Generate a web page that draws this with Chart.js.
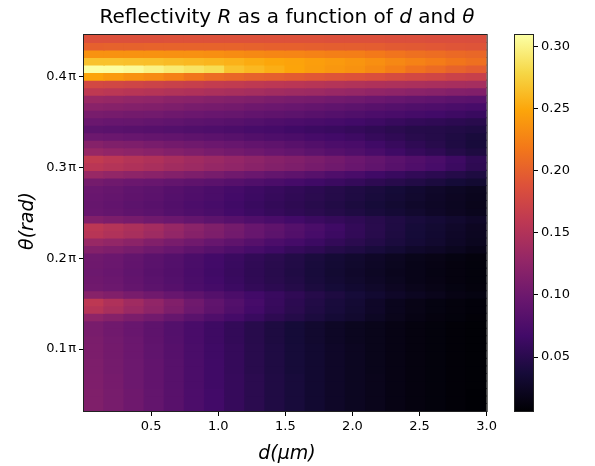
<!DOCTYPE html>
<html>
<head>
<meta charset="utf-8">
<script src="https://cdn.jsdelivr.net/npm/chart.js@4.4.1/dist/chart.umd.min.js"></script>
<style>
  body { margin: 0; background: #fff; font-family: "DejaVu Sans", sans-serif; }
  #wrap { position: relative; width: 595px; height: 466px; overflow: hidden; }
  #main { position: absolute; left: 0; top: 0; }
  #cbar { position: absolute; left: 500px; top: 0; }
  .txt { position: absolute; color: #000; white-space: nowrap; text-align: center; }
  #title { left: 87px; width: 400px; top: 4px; font-size: 20px; }
  #xlabel { left: 187px; width: 200px; top: 441px; font-size: 19px; font-style: italic; }
  #ylabel { left: -24px; top: 209px; width: 100px; height: 24px; line-height: 24px;
            font-size: 19px; font-style: italic; transform: rotate(-90deg); }
</style>
</head>
<body>
<div id="wrap">
  <canvas id="main" width="500" height="466"></canvas>
  <canvas id="cbar" width="95" height="466"></canvas>
  <div class="txt" id="title">Reflectivity <i>R</i> as a function of <i>d</i> and <i>θ</i></div>
  <div class="txt" id="xlabel">d(μm)</div>
  <div class="txt" id="ylabel">θ(rad)</div>
</div>
<script>
// thickness d (µm), column centres
const d_um = [0.075, 0.225, 0.375, 0.525, 0.675, 0.825, 0.975, 1.125, 1.275, 1.425,
              1.575, 1.725, 1.875, 2.025, 2.175, 2.325, 2.475, 2.625, 2.775, 2.925];

// angle theta (rad), row centres, top row first
const theta_rad = [1.387, 1.361, 1.335, 1.309, 1.283, 1.257, 1.231, 1.205, 1.179, 1.153,
                   1.127, 1.101, 1.075, 1.049, 1.023, 0.997, 0.971, 0.945, 0.919, 0.893,
                   0.867, 0.841, 0.815, 0.789, 0.763, 0.737, 0.711, 0.685, 0.659, 0.633,
                   0.607, 0.581, 0.555, 0.529, 0.503, 0.477, 0.451, 0.425, 0.399, 0.373,
                   0.347, 0.321, 0.295, 0.269, 0.243, 0.217, 0.191, 0.165, 0.139, 0.113];

// reflectivity R x 1000, one row per theta (same order), one value per d
const R_milli = [
  [187,187,187,187,188,188,188,188,188,188,188,188,187,187,187,186,186,185,185,184],
  [200,201,201,202,202,202,202,202,201,200,200,199,198,198,197,195,194,193,191,190],
  [236,236,236,236,235,235,234,232,230,228,227,225,223,222,219,215,212,210,207,205],
  [266,266,265,264,262,260,258,256,252,249,247,244,241,238,234,229,225,221,216,212],
  [309,308,305,299,293,288,283,266,260,254,248,243,239,236,230,222,214,208,202,197],
  [248,242,236,231,224,216,209,205,201,199,196,193,190,188,185,181,178,175,171,168],
  [178,176,174,172,169,167,164,162,160,158,156,154,152,150,148,147,145,144,142,141],
  [160,157,155,153,150,148,145,143,141,138,136,134,131,129,126,124,121,119,116,114],
  [132,130,127,125,122,120,117,115,113,110,108,106,103,101,98,95,92,90,87,85],
  [120,118,116,114,111,108,106,104,100,98,96,93,90,87,84,81,78,76,73,71],
  [108,106,104,103,100,98,96,94,91,89,87,84,81,78,75,72,69,67,64,61],
  [97,95,94,92,90,87,85,83,80,77,75,72,70,67,64,60,57,55,52,50],
  [87,85,84,82,80,78,76,74,71,69,66,63,61,58,55,51,48,47,45,43],
  [99,97,95,93,91,88,86,83,79,76,74,70,67,64,59,55,50,47,43,39],
  [117,113,111,108,104,101,98,95,91,88,84,79,75,72,66,60,54,49,43,38],
  [130,126,123,120,116,112,108,104,100,96,92,87,82,78,72,65,59,54,47,42],
  [162,157,152,148,142,137,133,128,123,118,114,109,104,98,92,85,79,73,64,55],
  [156,152,148,144,138,134,129,125,120,115,111,106,101,96,90,83,77,71,62,53],
  [131,127,123,120,116,111,107,102,97,92,88,83,77,72,66,61,56,52,47,42],
  [105,101,98,96,92,89,86,82,78,74,70,66,62,58,53,49,45,41,36,33],
  [97,94,90,87,82,78,74,69,64,60,56,52,48,44,40,36,32,28,25,22],
  [96,93,89,86,81,77,73,68,63,59,55,51,47,43,39,35,31,27,24,21],
  [94,91,87,84,79,75,71,66,61,57,53,49,45,41,37,33,29,26,23,20],
  [96,93,89,86,81,77,73,68,63,59,55,51,47,43,39,35,31,27,24,21],
  [114,110,106,101,97,92,87,82,77,72,67,62,58,54,49,44,39,35,31,27],
  [158,152,146,139,130,121,113,105,96,89,81,73,65,57,50,43,37,33,28,24],
  [155,149,143,136,127,118,111,103,95,87,79,71,63,56,49,42,36,32,27,23],
  [131,127,122,114,108,102,95,89,82,75,69,63,57,51,46,40,35,31,26,22],
  [116,112,107,101,96,89,83,77,71,65,59,54,48,44,39,34,29,26,22,18],
  [101,98,92,86,81,74,68,62,56,51,46,40,35,31,27,23,19,17,14,12],
  [100,97,91,85,80,73,67,61,55,50,45,39,34,30,26,22,18,16,13,11],
  [99,96,90,84,79,72,66,60,54,49,44,38,33,29,25,21,18,15,13,11],
  [100,97,91,85,80,73,67,61,55,50,45,39,34,30,26,22,18,16,13,11],
  [102,99,93,87,82,75,69,63,57,52,47,41,36,32,28,24,20,17,14,12],
  [119,114,108,102,95,88,81,74,67,61,55,48,42,37,32,27,23,20,16,14],
  [159,148,137,126,114,101,90,80,70,60,52,45,39,34,27,21,17,14,12,10],
  [153,143,133,123,111,99,88,78,68,59,51,44,38,33,27,21,17,14,12,10],
  [124,117,110,103,94,85,77,69,61,53,47,41,35,31,25,20,16,13,11,9],
  [108,102,96,88,80,72,64,57,49,42,36,31,26,22,19,16,13,11,9,8],
  [108,102,96,88,80,72,64,57,49,42,36,31,26,22,19,16,13,11,9,8],
  [109,103,97,89,81,72,64,57,49,42,36,31,26,22,19,16,13,11,9,8],
  [110,104,98,90,82,73,65,58,50,43,37,32,27,23,19,16,13,11,9,8],
  [110,104,98,90,82,73,65,58,50,43,37,32,27,23,19,16,13,11,9,8],
  [111,105,99,91,83,74,66,58,50,43,37,32,27,23,19,16,13,11,9,8],
  [111,105,99,91,83,74,66,58,50,43,37,32,27,23,19,16,13,11,9,8],
  [112,106,99,91,83,74,66,59,51,44,38,32,27,23,20,16,13,11,9,8],
  [112,106,99,91,83,74,66,59,51,44,38,32,27,23,20,16,13,11,9,8],
  [113,107,100,92,84,75,67,59,51,44,38,32,27,23,20,16,13,11,9,7],
  [113,107,100,92,84,75,67,59,51,44,38,32,27,23,20,16,13,11,9,7],
  [113,107,100,92,84,75,67,59,51,44,38,32,27,23,20,16,13,11,9,7]
];

// tick values / labels
const xTicks = [0.5, 1.0, 1.5, 2.0, 2.5, 3.0];
const yTicks = [0.1 * Math.PI, 0.2 * Math.PI, 0.3 * Math.PI, 0.4 * Math.PI];
const yTickLabels = ['0.1\u200aπ', '0.2\u200aπ', '0.3\u200aπ', '0.4\u200aπ'];
const cbarTicks = [0.05, 0.10, 0.15, 0.20, 0.25, 0.30];

// colour scale limits
const vmin = 0.0066;
const vmax = 0.309;

const FONT = 'DejaVu Sans';
const INFERNO = ['#000004', '#160b39', '#420a68', '#6a176e', '#932667', '#bc3754',
                 '#dd513a', '#f37819', '#fca50a', '#f6d746', '#fcffa4'];

function hex2rgb(h) {
  return [parseInt(h.slice(1, 3), 16), parseInt(h.slice(3, 5), 16), parseInt(h.slice(5, 7), 16)];
}
const STOPS = INFERNO.map(hex2rgb);

function inferno(t) {
  t = Math.max(0, Math.min(1, t));
  var p = t * 10;
  var i = Math.min(9, Math.floor(p));
  var f = p - i;
  var a = STOPS[i], b = STOPS[i + 1];
  var c = a.map((v, k) => Math.round(v + (b[k] - v) * f));
  return 'rgb(' + c.join(',') + ')';
}

/* draws the axes frame on top of the cells */
const frame = {
  id: 'frame',
  afterDatasetsDraw(chart) {
    const a = chart.chartArea, ctx = chart.ctx;
    ctx.save();
    ctx.strokeStyle = '#222';
    ctx.lineWidth = 1;
    ctx.strokeRect(a.left - 0.5, a.top - 0.5, a.right - a.left + 1, a.bottom - a.top + 1);
    ctx.restore();
  }
};

// cells are drawn a little taller/wider than their step so no seams show
const half = 0.0148;

var datasets = theta_rad.map((th, i) => ({
  label: 'theta ' + th,
  data: d_um.map(d => ({x: d, y: [th - half, th + half]})),
  backgroundColor: R_milli[i].map(v => inferno((v / 1000 - vmin) / (vmax - vmin))),
  borderWidth: 0,
  barPercentage: 1.08,
  categoryPercentage: 1.0,
  grouped: false
}));

var tickFont = {family: FONT, size: 13};

new Chart(document.getElementById('main'), {
  type: 'bar',
  data: {datasets: datasets},
  options: {
    responsive: false,
    animation: false,
    layout: {padding: {left: 0, top: 35, right: 10, bottom: 0}},
    plugins: {legend: {display: false}, tooltip: {enabled: false}},
    scales: {
      x: {
        type: 'linear', min: 0, max: 3.0, offset: false,
        afterBuildTicks: s => { s.ticks = xTicks.map(v => ({value: v})); },
        afterFit: s => { s.height = 55; },
        grid: {offset: false, drawOnChartArea: false, drawTicks: true, tickLength: 5, color: '#000'},
        border: {display: true, color: '#222'},
        ticks: {color: '#000', font: tickFont, padding: 3, maxRotation: 0, autoSkip: false,
                callback: v => v.toFixed(1)}
      },
      y: {
        type: 'linear', min: 0.1, max: 1.4, beginAtZero: false,
        afterBuildTicks: s => { s.ticks = yTicks.map(v => ({value: v})); },
        afterFit: s => { s.width = 84; },
        grid: {drawOnChartArea: false, drawTicks: true, tickLength: 5, color: '#000'},
        border: {display: true, color: '#222'},
        ticks: {color: '#000', font: tickFont, padding: 3, autoSkip: false,
                callback: (v, i) => yTickLabels[i]}
      }
    }
  },
  plugins: [frame]
});

// colorbar
function cbarFill(ctx) {
  const area = ctx.chart.chartArea;
  if (!area) return INFERNO[5];
  const g = ctx.chart.ctx.createLinearGradient(0, area.bottom, 0, area.top);
  INFERNO.forEach((c, k) => g.addColorStop(k / 10, c));
  return g;
}

new Chart(document.getElementById('cbar'), {
  type: 'bar',
  data: {
    labels: ['R'],
    datasets: [{data: [[vmin, vmax]], backgroundColor: cbarFill, borderWidth: 0,
                barPercentage: 1, categoryPercentage: 1}]
  },
  options: {
    responsive: false,
    animation: false,
    layout: {padding: {left: 15, top: 35, right: 0, bottom: 55}},
    plugins: {legend: {display: false}, tooltip: {enabled: false}},
    scales: {
      x: {display: false},
      y: {
        position: 'right', min: vmin, max: vmax, beginAtZero: false,
        afterBuildTicks: s => { s.ticks = cbarTicks.map(v => ({value: v})); },
        afterFit: s => { s.width = 62; },
        grid: {drawOnChartArea: false, drawTicks: true, tickLength: 5, color: '#000'},
        border: {display: true, color: '#222'},
        ticks: {color: '#000', font: tickFont, padding: 3, autoSkip: false,
                callback: v => v.toFixed(2)}
      }
    }
  },
  plugins: [frame]
});
</script>
</body>
</html>
